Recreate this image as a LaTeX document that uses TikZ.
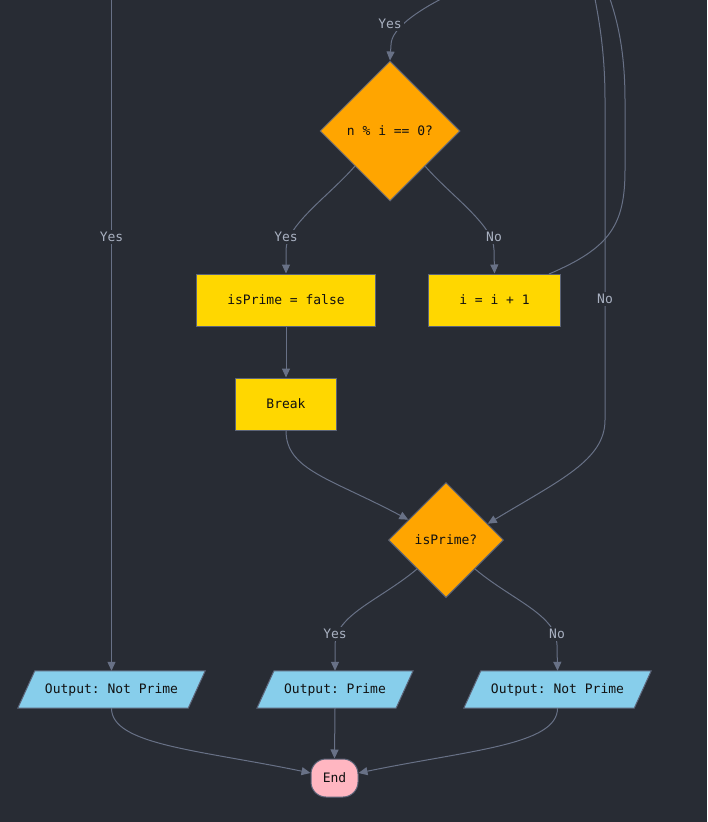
\documentclass[tikz,border=0pt]{standalone}
\usepackage{fontspec}
\setmainfont{DejaVu Sans Mono}
\frenchspacing
\usetikzlibrary{shapes.geometric,arrows.meta,calc,backgrounds}
\definecolor{bg}{HTML}{282C34}
\definecolor{edge}{HTML}{687186}
\definecolor{lbltxt}{HTML}{A9B1C1}
\definecolor{bord}{HTML}{5C6478}
\definecolor{dia}{HTML}{FFA500}
\definecolor{proc}{HTML}{FFD700}
\definecolor{io}{HTML}{87CEEB}
\definecolor{term}{HTML}{FFB6C1}
\definecolor{ink}{HTML}{111111}
\tikzset{
  base/.style={draw=bord, line width=1pt, text=ink, font=\fontsize{13}{15}\selectfont},
  decision/.style={base, diamond, fill=dia, aspect=1, inner sep=0pt},
  procbox/.style={base, rectangle, fill=proc, minimum height=52pt, inner xsep=31pt},
  iobox/.style={rectangle, text=ink, font=\fontsize{13}{15}\selectfont, minimum height=37pt, inner xsep=10pt, inner ysep=0pt},
  ioshape/.style={draw=bord, line width=1pt, fill=io},
  termbox/.style={base, rectangle, rounded corners=15pt, fill=term, minimum width=47pt, minimum height=38pt, inner sep=0pt},
  conn/.style={draw=edge, line width=1pt, -{Triangle[length=9pt,width=8pt]}},
  plain/.style={draw=edge, line width=1pt},
  lbl/.style={fill=bg, text=lbltxt, inner sep=2pt, font=\fontsize{13}{15}\selectfont},
}
\begin{document}
\begin{tikzpicture}[x=1pt,y=-1pt]
\useasboundingbox (0,0) rectangle (707,822);

\node[decision, minimum width=140pt, minimum height=140pt] (d1) at (390,131) {n \% i == 0?};
\node[procbox] (r1) at (286,300) {isPrime = false};
\node[procbox] (r2) at (494.5,300) {i = i + 1};
\node[procbox] (r3) at (286,404) {Break};
\node[decision, minimum width=115pt, minimum height=115pt] (d2) at (446,540) {isPrime?};
\node[iobox] (o1) at (111.5,689.5) {Output: Not Prime};
\node[iobox] (o2) at (335,689.5) {Output: Prime};
\node[iobox] (o3) at (557.5,689.5) {Output: Not Prime};
\node[termbox] (e) at (334.5,778) {End};

\begin{pgfonlayer}{background}
\fill[bg] (0,0) rectangle (707,822);
\foreach \n in {o1,o2,o3}{
  \path[ioshape] ($(\n.south west)+(-17,0)$) -- (\n.south east)
     -- ($(\n.north east)+(17,0)$) -- (\n.north west) -- cycle;
}
\end{pgfonlayer}

\coordinate (t1) at (441,-1);
\coordinate (tL) at (111.5,-1);
\coordinate (t2) at (595,-1);
\coordinate (t3) at (610,-1);
\coordinate (r2out) at (549,274);
\coordinate (d2inL) at ($(d2.west)!0.35!(d2.north)$);
\coordinate (d2inR) at ($(d2.north)!0.72!(d2.east)$);
\coordinate (eL) at ($(e.west)+(0,-5)$);
\coordinate (eR) at ($(e.east)+(0,-5)$);

% top incoming Yes
\draw[conn] (t1) .. controls (420,10) and (391,28) .. (391,45) -- (d1.north)
  node[lbl] at (390,24) {Yes};
% left long Yes
\draw[conn] (tL) -- (o1.north) node[lbl] at (111.5,237) {Yes};
% d1 -> r1
\draw[conn] (d1.south west) .. controls (330,195) and (286,225) .. (286,250) -- (r1.north)
  node[lbl] at (286,237) {Yes};
% d1 -> r2
\draw[conn] (d1.south east) .. controls (450,195) and (494,225) .. (494,250) -- (r2.north)
  node[lbl] at (494,237) {No};
% r1 -> r3
\draw[conn] (r1.south) -- (r3.north);
% r2 loop back up
\draw[plain] (r2out) .. controls (610,248) and (625,225) .. (625,170) -- (625,100)
  .. controls (625,50) and (617,20) .. (t3);
% right long No into d2
\draw[conn] (t2) .. controls (601,30) and (605,60) .. (605,100) -- (605,420)
  .. controls (605,460) and (560,480) .. (d2inR)
  node[lbl] at (605,299) {No};
% break -> d2
\draw[conn] (r3.south) .. controls (286,470) and (330,478) .. (d2inL);
% d2 -> o2
\draw[conn] (d2.south west) .. controls (380,600) and (335,615) .. (335,645) -- (o2.north)
  node[lbl] at (335,634) {Yes};
% d2 -> o3
\draw[conn] (d2.south east) .. controls (512,600) and (557,615) .. (557,645) -- (o3.north)
  node[lbl] at (557,634) {No};
% outputs -> End
\draw[conn] (o1.south) .. controls (111.5,745) and (200,750) .. (eL);
\draw[conn] (o2.south) -- (e.north);
\draw[conn] (o3.south) .. controls (557.5,745) and (470,750) .. (eR);
\end{tikzpicture}
\end{document}
